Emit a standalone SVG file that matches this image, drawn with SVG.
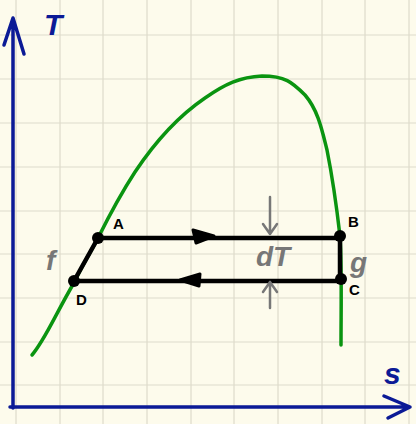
<svg xmlns="http://www.w3.org/2000/svg" width="416" height="424" viewBox="0 0 416 424">
<defs>
<style>
.grid{stroke:#dedbcb;stroke-width:1.2}
.axis{stroke:#0b1a96;stroke-width:3.5;fill:none;stroke-linecap:round;stroke-linejoin:round}
.cyc{stroke:#000;stroke-width:4.5;fill:none;stroke-linecap:round}
.pt{fill:#000}
.lbl{font-family:"Liberation Sans",Arial,sans-serif;font-weight:bold;font-size:15px;fill:#000}
.gray{font-family:"Liberation Sans",Arial,sans-serif;font-style:italic;font-weight:bold;font-size:28px;fill:#777}
.blue{font-family:"Liberation Sans",Arial,sans-serif;font-style:italic;font-weight:bold;font-size:30px;fill:#0b1a96}
.garr{stroke:#777;stroke-width:2.5;fill:none;stroke-linecap:round;stroke-linejoin:round}
</style>
</defs>
<rect width="416" height="424" fill="#fdfbec"/>
<g id="grid">
<path class="grid" d="M16 0V424M60 0V424M103 0V424M147 0V424M191 0V424M234 0V424M278 0V424M322 0V424M365 0V424M409 0V424M0 35H416M0 79H416M0 123H416M0 167H416M0 211H416M0 254H416M0 298H416M0 342H416M0 385H416"/>
</g>
<g id="axes">
<path class="axis" d="M13 408V20M4 45L13 18L24 54"/>
<path class="axis" d="M10 407H410M384 396L410 407L388 418"/>
<text class="blue" x="44" y="35">T</text>
<text class="blue" x="384" y="384">s</text>
</g>
<g id="curve">
<path d="M32 355C45 340 55 315 75 281C82 265 92 250 98 238C108 218 120 195 135 172C155 142 180 115 205 98C225 84 240 77 262 76C285 76 292 82 305 95C318 110 322 130 327 150C333 180 337 210 340 236C342 265 341 310 341 345" fill="none" stroke="#0a9410" stroke-width="3.5" stroke-linecap="round"/>
</g>
<g id="connectors">
<path class="cyc" d="M98 238H340M74 281H341M98 238L74 281M340 236V279"/>
<path d="M193 230L214 236L196 243Z" fill="#000" stroke="#000" stroke-width="3" stroke-linejoin="round"/>
<path d="M200 274L180 280L199 286Z" fill="#000" stroke="#000" stroke-width="3" stroke-linejoin="round"/>
<path class="garr" d="M270 197V234M263 224L270 234L277 224"/>
<path class="garr" d="M270 308V282M263 292L270 282L277 292"/>
</g>
<g id="A"><circle class="pt" cx="98" cy="238" r="6"/><text class="lbl" x="113" y="229">A</text></g>
<g id="B"><circle class="pt" cx="340" cy="236" r="6"/><text class="lbl" x="348" y="227">B</text></g>
<g id="C"><circle class="pt" cx="341" cy="279" r="6"/><text class="lbl" x="349" y="295">C</text></g>
<g id="D"><circle class="pt" cx="74" cy="281" r="6"/><text class="lbl" x="76" y="305">D</text></g>
<g id="labels">
<text class="gray" x="46" y="270">f</text>
<text class="gray" x="350" y="272">g</text>
<text class="gray" x="256" y="266" font-size="20">dT</text>
</g>
</svg>
